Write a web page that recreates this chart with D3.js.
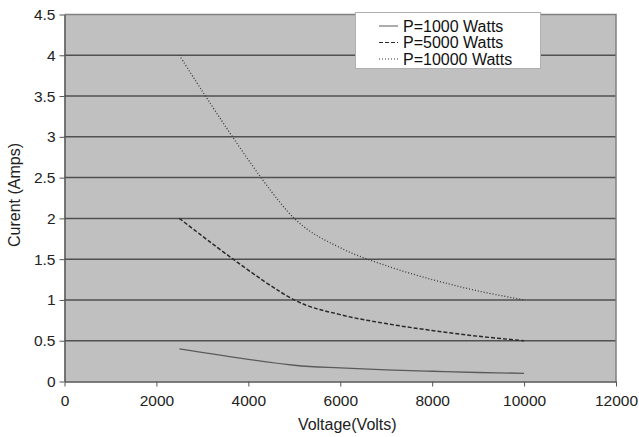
<!DOCTYPE html>
<html>
<head>
<meta charset="utf-8">
<script src="https://cdn.jsdelivr.net/npm/d3@7"></script>
<style>
html,body{margin:0;padding:0;background:#fff;}
svg{display:block;font-family:"Liberation Sans",Arial,sans-serif;}
</style>
</head>
<body>
<svg id="chart" width="639" height="437"></svg>
<script>
// Data
const voltages = [2500, 5000, 6000, 7000, 8000, 9000, 10000];
const current1000 = [0.4, 0.2, 0.167, 0.143, 0.125, 0.111, 0.1];
const current5000 = [2, 1, 0.82, 0.71, 0.625, 0.555, 0.5];
const current10000 = [4, 2, 1.64, 1.42, 1.25, 1.11, 1];
const seriesNames = ["P=1000 Watts", "P=5000 Watts", "P=10000 Watts"];
const xTicks = [0, 2000, 4000, 6000, 8000, 10000, 12000];
const yTicks = [0, 0.5, 1, 1.5, 2, 2.5, 3, 3.5, 4, 4.5];

const series = [
  {name: seriesNames[0], values: current1000, stroke: "#5a5a5a", dash: null, width: 1.4},
  {name: seriesNames[1], values: current5000, stroke: "#2a2a2a", dash: "4,2", width: 1.5},
  {name: seriesNames[2], values: current10000, stroke: "#3a3a3a", dash: "1,2", width: 1.3}
];

const svg = d3.select("#chart");
const L = 64.5, R = 616, T = 14.5, B = 381.5;

const x = d3.scaleLinear().domain([0, 12000]).range([L, R]);
const y = d3.scaleLinear().domain([0, 4.5]).range([B, T]);

// plot background
svg.append("rect").attr("x", L).attr("y", T).attr("width", R - L).attr("height", B - T)
  .attr("fill", "#c0c0c0");

// gridlines
svg.append("g").selectAll("line").data(yTicks.filter(d => d > 0 && d < 4.5)).join("line")
  .attr("x1", L).attr("x2", R).attr("y1", d => y(d)).attr("y2", d => y(d))
  .attr("stroke", "#505050").attr("stroke-width", 1.5);

// top & right border
svg.append("path").attr("d", `M${L},${T}H${R}V${B}`).attr("fill", "none")
  .attr("stroke", "#808080").attr("stroke-width", 1.5);

// axes
const xAxis = svg.append("g").attr("transform", `translate(0,${B})`)
  .call(d3.axisBottom(x).tickValues(xTicks).tickFormat(d3.format("d")).tickSizeOuter(0).tickSizeInner(5).tickPadding(5));
const yAxis = svg.append("g").attr("transform", `translate(${L},0)`)
  .call(d3.axisLeft(y).tickValues(yTicks).tickFormat(d => String(d)).tickSizeOuter(0).tickSizeInner(5).tickPadding(4));
[xAxis, yAxis].forEach(a => {
  a.select(".domain").attr("stroke", "#555").attr("stroke-width", 1.5);
  a.selectAll(".tick line").attr("stroke", "#555").attr("stroke-width", 1);
  a.selectAll("text").attr("font-size", 15.5).attr("fill", "#222")
    .attr("font-family", "Liberation Sans, Arial, sans-serif");
});
xAxis.selectAll("text").attr("dy", "0.95em");

// axis titles
svg.append("text").attr("x", (L + R) / 2 + 7).attr("y", 430).attr("text-anchor", "middle")
  .attr("font-size", 16).attr("fill", "#222").text("Voltage(Volts)");
svg.append("text").attr("transform", "translate(20,195) rotate(-90)").attr("text-anchor", "middle")
  .attr("font-size", 16).attr("fill", "#222").text("Curent (Amps)");

// lines
const line = d3.line().x((d, i) => x(voltages[i])).y(d => y(d)).curve(d3.curveCatmullRom.alpha(0.5));
svg.append("g").selectAll("path").data(series).join("path")
  .attr("d", d => line(d.values))
  .attr("fill", "none")
  .attr("stroke", d => d.stroke)
  .attr("stroke-width", d => d.width)
  .attr("stroke-dasharray", d => d.dash);

// legend
const lg = svg.append("g");
lg.append("rect").attr("x", 355.5).attr("y", 12.5).attr("width", 185).attr("height", 56)
  .attr("fill", "#fff").attr("stroke", "#b0b0b0").attr("stroke-width", 1);
const rows = lg.selectAll("g.row").data(series).join("g").attr("class", "row")
  .attr("transform", (d, i) => `translate(0,${26 + i * 16.5})`);
rows.append("line").attr("x1", 379).attr("x2", 398).attr("y1", 0).attr("y2", 0)
  .attr("stroke", d => d.stroke).attr("stroke-width", 1).attr("stroke-dasharray", d => d.dash);
rows.append("text").attr("x", 403).attr("y", 0).attr("dy", "0.36em")
  .attr("font-size", 16).attr("fill", "#111").text(d => d.name);
</script>
</body>
</html>
